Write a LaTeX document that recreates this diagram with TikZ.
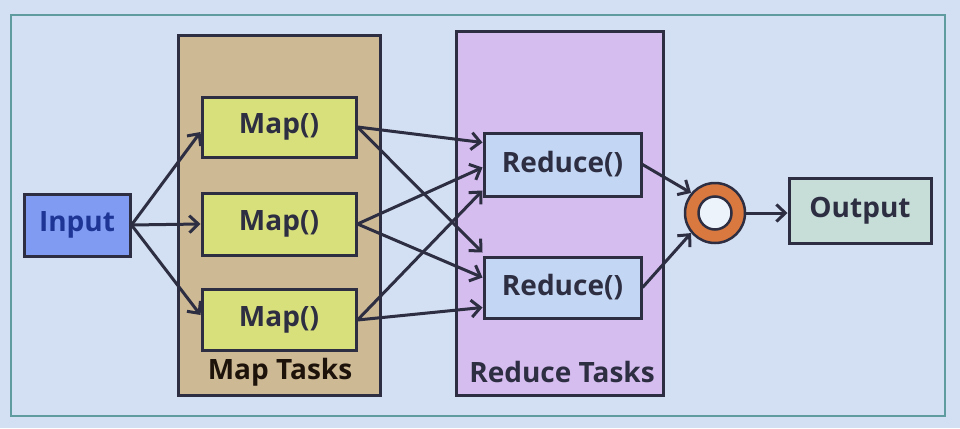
\documentclass[tikz,border=0pt]{standalone}
\usepackage{fontspec}
\setmainfont{Open Sans}
\usetikzlibrary{arrows.meta}
\definecolor{slide}{HTML}{D3E0F3}
\definecolor{frame}{HTML}{5E9C9F}
\definecolor{edge}{HTML}{2E2E42}
\definecolor{inputfill}{HTML}{7F9CF2}
\definecolor{inputtext}{HTML}{1E3596}
\definecolor{mapgroup}{HTML}{CDB994}
\definecolor{mapfill}{HTML}{D8E07C}
\definecolor{redgroup}{HTML}{D6BDF0}
\definecolor{redfill}{HTML}{C3D7F4}
\definecolor{outfill}{HTML}{C6DDD8}
\definecolor{ring}{HTML}{D9793F}
\begin{document}
\begin{tikzpicture}[x=1pt,y=-1pt,
  box/.style={draw=edge,line width=3pt,inner sep=0pt,
    font=\bfseries\fontsize{28}{32}\selectfont,text=edge},
  group/.style={draw=edge,line width=3pt,inner sep=0pt},
  flow/.style={draw=edge,line width=3pt,-{Straight Barb[length=9pt,width=17pt,line width=3pt]}}]
% slide and frame
\fill[slide] (0,0) rectangle (960,428);
\draw[frame,line width=2.5pt] (11,15) rectangle (945,416);
% task groups
\node[group,fill=mapgroup,minimum width=202pt,minimum height=359pt] (maptasks) at (279,215.5) {};
\node[group,fill=redgroup,minimum width=207pt,minimum height=363pt] (redtasks) at (559.5,213.5) {};
\node[box,draw=none,text=black!85!brown] (maplabel) at (280,372) {Map Tasks};
\node[box,draw=none] (redlabel) at (562,372) {Reduce Tasks};
% nodes
\node[box,fill=inputfill,text=inputtext,minimum width=106pt,minimum height=62pt] (input) at (77,225) {Input};
\node[box,fill=mapfill,minimum width=154pt,minimum height=60pt] (map1) at (279,127) {Map()};
\node[box,fill=mapfill,minimum width=154pt,minimum height=62pt] (map2) at (279,224) {Map()};
\node[box,fill=mapfill,minimum width=154pt,minimum height=61pt] (map3) at (279,320) {Map()};
\node[box,fill=redfill,minimum width=157pt,minimum height=63pt] (red1) at (562.5,164.5) {Reduce()};
\node[box,fill=redfill,minimum width=157pt,minimum height=61pt] (red2) at (562.5,287.5) {Reduce()};
\node[circle,draw=edge,line width=2.5pt,fill=ring,minimum size=60pt,inner sep=0pt] (merge) at (715,213) {};
\node[circle,draw=edge,line width=2.5pt,fill=slide!40!white,minimum size=33pt,inner sep=0pt] (hole) at (715,213) {};
\node[box,fill=outfill,minimum width=142pt,minimum height=65pt] (output) at (860,210.5) {Output};
% input to maps
\draw[flow] (input.east) -- ([yshift=-5pt]map1.west);
\draw[flow] (input.east) -- (map2.west);
\draw[flow] (input.east) -- ([yshift=5pt]map3.west);
% maps to reduces
\draw[flow] (map1.east) -- ([yshift=22pt]red1.west);
\draw[flow] (map1.east) -- ([yshift=35pt]red2.west);
\draw[flow] (map2.east) -- ([yshift=-3pt]red1.west);
\draw[flow] (map2.east) -- ([yshift=10pt]red2.west);
\draw[flow] (map3.east) -- ([yshift=-26pt]red1.west);
\draw[flow] (map3.east) -- ([yshift=-20pt]red2.west);
% reduces to output
\draw[flow] (red1.east) -- (merge.140);
\draw[flow] (red2.east) -- (merge.220);
\draw[flow] (merge.east) -- (merge.east -| output.west);
\end{tikzpicture}
\end{document}
